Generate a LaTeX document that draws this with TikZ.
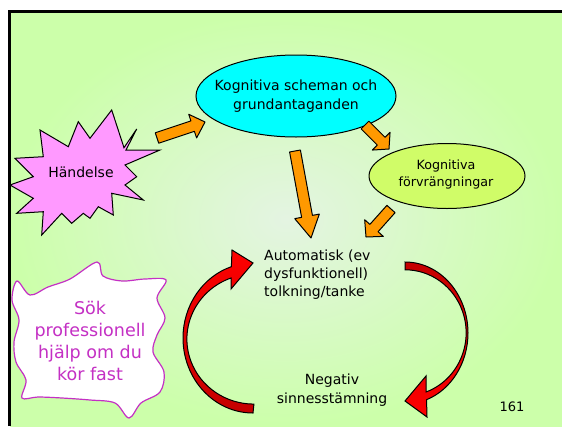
\documentclass[tikz,border=0pt]{standalone}
\usepackage{fontspec}
\setmainfont{DejaVu Sans}
\usetikzlibrary{shapes.geometric,calc}

\definecolor{bggreen}{RGB}{204,255,170}
\definecolor{bglight}{RGB}{228,244,226}
\definecolor{arroworange}{RGB}{255,153,0}
\definecolor{schemacyan}{RGB}{0,255,255}
\definecolor{limefill}{RGB}{208,252,104}
\definecolor{starpink}{RGB}{255,153,255}
\definecolor{helppurple}{RGB}{196,48,196}
\definecolor{darkred}{RGB}{196,0,0}

% block arrow: tail, tip, head length
\newcommand{\blockarrow}[3]{%
\coordinate (hb) at ($(#2)!#3!(#1)$);
\draw[orangearrow] ($(#1)!5.5pt!90:(#2)$) -- ($(hb)!5.5pt!-90:(#1)$) -- ($(hb)!12.5pt!-90:(#1)$) -- (#2)
  -- ($(hb)!12.5pt!90:(#1)$) -- ($(hb)!5.5pt!90:(#1)$) -- ($(#1)!5.5pt!-90:(#2)$) -- cycle;
}

\begin{document}
\begin{tikzpicture}[x=1pt,y=-1pt,
  orangearrow/.style={draw=black, fill=arroworange, line width=1pt, line join=round},
  redarc/.style={draw=black, line width=1pt, line join=miter},
  bodytext/.style={font=\fontsize{14}{19}\selectfont, inner sep=0pt}]
\useasboundingbox (0,0) rectangle (562,426);
\fill[white] (0,0) rectangle (562,426);
\shade[inner color=bglight, outer color=bggreen] (10,12) rectangle (562,426);
\draw[line width=3pt] (9.5,426) -- (9.5,11.5) -- (562,11.5);

% ellipses
\node[ellipse, draw, line width=1pt, fill=schemacyan, minimum width=200pt, minimum height=82pt] (schema) at (296,96) {};
\node[bodytext, align=center] (schematext) at (schema) {Kognitiva scheman och\\grundantaganden};
\node[ellipse, draw, line width=1pt, fill=limefill, minimum width=156pt, minimum height=65pt] (distort) at (447,176) {};
\node[bodytext, align=center, font=\fontsize{12.7}{17}\selectfont] (distorttext) at (446,174) {Kognitiva\\förvrängningar};

% star
\draw[line width=1pt, fill=starpink, line join=miter] (111.7,110) -- (124,147.7) -- (136.7,129) -- (126,150) -- (160,150)
  -- (125,165) -- (136.7,176.7) -- (125,185) -- (143.3,200) -- (111.7,193.3) -- (113.3,215) -- (98.3,206.7)
  -- (90,218.3) -- (83.3,213.3) -- (71.7,223.3) -- (61.7,213.3) -- (41.7,235) -- (43.3,211.7) -- (16.7,213.3)
  -- (33.3,198.3) -- (10,185) -- (33.3,176.7) -- (15,158.3) -- (43.3,156.7) -- (40,130) -- (68.3,146.7)
  -- (78.3,121.7) -- (90,138.3) -- cycle;
\node[bodytext] (event) at (81,172) {Händelse};

% cloud
\draw[line width=1.2pt, draw=helppurple, fill=white] plot[smooth cycle, tension=0.55] coordinates {
  (17,281) (30,295) (48,287) (70,279) (97,262) (103,276) (122,281) (145,279) (166,280)
  (157,298) (165,318) (157,335) (153,352) (164,372) (160,392) (141,403) (129,418)
  (115,403) (90,400) (62,398) (38,397) (22,398) (26,380) (16,362) (14,342) (19,320) (12,300)};
\node[align=center, text=helppurple, font=\fontsize{17.5}{21.7}\selectfont, inner sep=0pt] (help) at (90,341) {Sök\\professionell\\hjälp om du\\kör fast};

% texts
\node[bodytext, anchor=west, align=left, font=\fontsize{14}{18}\selectfont] (auto) at (264,275) {Automatisk (ev\\dysfunktionell)\\tolkning/tanke};
\node[bodytext, align=center] (mood) at (332,390) {Negativ\\sinnesstämning};
\node[bodytext, font=\fontsize{13}{15}\selectfont] (pagenr) at (512,407) {161};

% orange arrows
\coordinate (a1s) at (157,138); \coordinate (a1e) at (205,122);
\coordinate (a2s) at (365,125); \coordinate (a2e) at (389,149);
\coordinate (a3s) at (295,151); \coordinate (a3e) at (311,238);
\coordinate (a4s) at (391,209); \coordinate (a4e) at (366,237);
\blockarrow{a1s}{a1e}{13pt}
\blockarrow{a2s}{a2e}{11pt}
\blockarrow{a3s}{a3e}{22pt}
\blockarrow{a4s}{a4e}{12pt}

% red cycle
\draw[redarc, top color=red, bottom color=darkred] (253,413) arc[start angle=90, end angle=252, x radius=70, y radius=75]
  -- (232,250) -- (253,263) -- (231,289) -- (231,278) arc[start angle=250, end angle=90, x radius=67, y radius=65] -- cycle;
\draw[redarc, top color=darkred, bottom color=red] (405,262) arc[start angle=-90, end angle=70, x radius=63, y radius=71]
  -- (427,417) -- (405,401) -- (426,376) -- (426,392) arc[start angle=70, end angle=-90, x radius=61, y radius=63] -- cycle;
\end{tikzpicture}
\end{document}
